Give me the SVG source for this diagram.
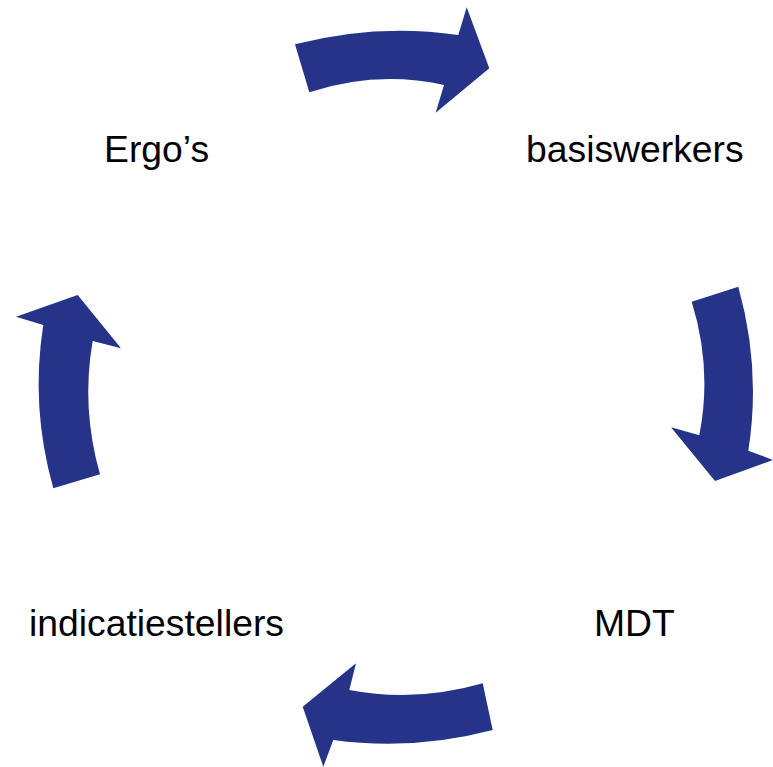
<svg xmlns="http://www.w3.org/2000/svg" width="773" height="767" viewBox="0 0 773 767">
<style>
.arrow{fill:#253489;stroke:none}
.lbl{font-family:"Liberation Sans",Arial,sans-serif;font-size:37.3px;fill:#000}
</style>
<rect width="773" height="767" fill="#fff"/>
<g id="connectors">
<path id="arrow-top" class="arrow" d="M295,44.3 Q377,23 458.3,35 L466.7,7.3 L489.3,68.3 L435.7,112.7 L444,85 Q376.7,70.3 309.3,92.3 Z"/>
<path id="arrow-right" class="arrow" d="M691.7,301.7 L738.3,286.7 Q761.3,368.7 748.3,450.7 L773,460 L715,481 L671,427.3 L699.3,435.3 Q712.5,368.5 691.7,301.7 Z"/>
<path id="arrow-bottom" class="arrow" d="M482.7,683.3 L492.7,730 Q413,751 333.3,740 L323.3,766.7 L302.7,706.7 L356,663.3 L349.3,690 Q416,702.7 482.7,683.3 Z"/>
<path id="arrow-left" class="arrow" d="M53.3,488.3 L100,474.3 Q81,407.7 92.7,341 L121,348.3 L77.7,295 L16,316.7 L43.3,325 Q30.3,406.7 53.3,488.3 Z"/>
</g>
<g id="node-ergos"><text class="lbl" x="104" y="162">Ergo’s</text></g>
<g id="node-basiswerkers"><text class="lbl" x="526" y="162">basiswerkers</text></g>
<g id="node-mdt"><text class="lbl" x="594" y="636">MDT</text></g>
<g id="node-indicatiestellers"><text class="lbl" x="29" y="636">indicatiestellers</text></g>
</svg>
